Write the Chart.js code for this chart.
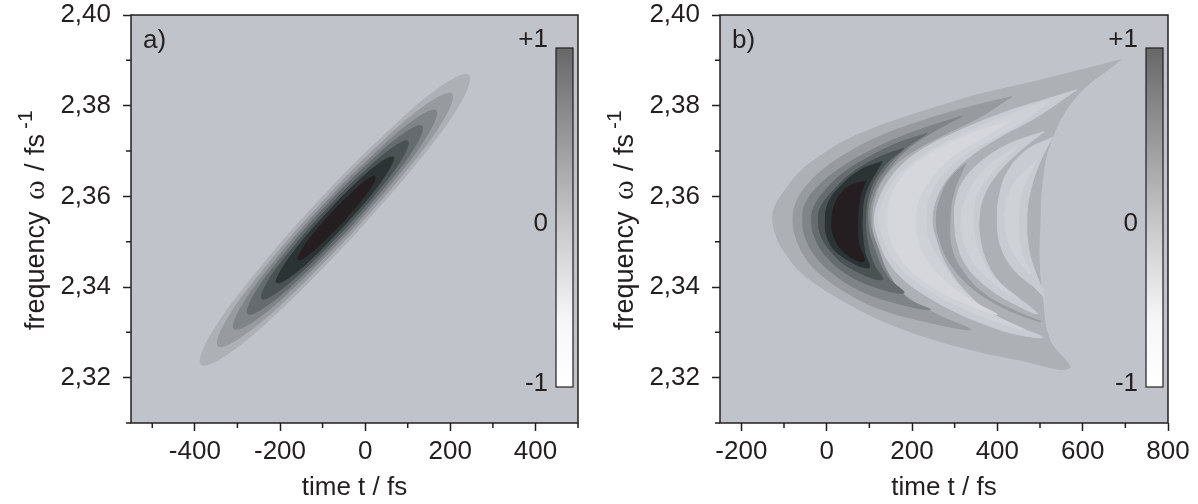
<!DOCTYPE html>
<html>
<head>
<meta charset="utf-8">
<script src="https://cdn.jsdelivr.net/npm/chart.js@4.4.0/dist/chart.umd.min.js"></script>
<style>
  body { margin: 0; background: #fff; }
  #wrap { position: relative; width: 1198px; height: 504px; }
  canvas { position: absolute; top: 0; }
  #chartA { left: 0; }
  #chartB { left: 589px; }
</style>
</head>
<body>
<div id="wrap">
  <canvas id="chartA" width="589" height="504"></canvas>
  <canvas id="chartB" width="609" height="504"></canvas>
</div>
<script>
// axes
const timeRangeA = [-550, 500];
const timeRangeB = [-250, 800];
const freqRange = [2.31, 2.40];
const timeTicksA = [-400, -200, 0, 200, 400];
const timeMinorA = [-500, -300, -100, 100, 300, 500];
const timeTicksB = [-200, 0, 200, 400, 600, 800];
const timeMinorB = [-100, 100, 300, 500, 700];
const freqTicks = [2.32, 2.34, 2.36, 2.38, 2.40];
const freqMinor = [2.31, 2.33, 2.35, 2.37, 2.39];
const barLabels = ['+1', '0', '-1'];

// panel a) contour outlines [t fs, omega fs^-1], outer to inner
const aLevel1 = [[-29,2.3511],[-191,2.3357],[-322,2.3253],[-385,2.3229],[-365,2.3290],[-265,2.3421],[-114,2.3585],[49,2.3739],[180,2.3843],[243,2.3867],[223,2.3806],[123,2.3676],[-29,2.3511]];
const aLevel2 = [[-34,2.3516],[-176,2.3381],[-290,2.3291],[-345,2.3270],[-327,2.3324],[-240,2.3437],[-108,2.3580],[34,2.3715],[148,2.3805],[203,2.3826],[185,2.3772],[98,2.3659],[-34,2.3516]];
const aLevel3 = [[-39,2.3520],[-162,2.3404],[-260,2.3326],[-308,2.3308],[-292,2.3354],[-217,2.3452],[-103,2.3576],[20,2.3692],[118,2.3770],[166,2.3789],[150,2.3742],[75,2.3644],[-39,2.3520]];
const aLevel4 = [[-43,2.3524],[-149,2.3424],[-234,2.3357],[-275,2.3341],[-262,2.3381],[-197,2.3465],[-99,2.3572],[7,2.3672],[92,2.3739],[133,2.3755],[120,2.3715],[55,2.3631],[-43,2.3524]];
const aLevel5 = [[-48,2.3528],[-137,2.3444],[-208,2.3388],[-242,2.3374],[-231,2.3408],[-177,2.3478],[-94,2.3568],[-5,2.3652],[66,2.3708],[100,2.3722],[89,2.3688],[35,2.3618],[-48,2.3528]];
const aLevel6 = [[-53,2.3532],[-123,2.3465],[-180,2.3420],[-208,2.3410],[-198,2.3436],[-155,2.3493],[-89,2.3564],[-19,2.3631],[38,2.3676],[66,2.3686],[56,2.3660],[13,2.3603],[-53,2.3532]];
const aLevel7 = [[-55,2.3541],[-102,2.3497],[-139,2.3467],[-157,2.3460],[-151,2.3478],[-123,2.3515],[-79,2.3563],[-32,2.3607],[5,2.3637],[23,2.3644],[17,2.3626],[-11,2.3589],[-55,2.3541]];

// panel b) outlines
const bEnvelope = [[689,2.3901],[486,2.3853],[353,2.3824],[275,2.3802],[188,2.3776],[110,2.3750],[40,2.3721],[-15,2.3689],[-62,2.3655],[-97,2.3614],[-121,2.3578],[-126,2.3548],[-118,2.3512],[-97,2.3475],[-62,2.3434],[-11,2.3398],[55,2.3361],[134,2.3324],[228,2.3291],[337,2.3262],[447,2.3240],[568,2.3221],[522,2.3285],[505,2.3380],[498,2.3460],[500,2.3548],[505,2.3630],[525,2.3720],[585,2.3820],[689,2.3901]];
const bNeg1 = [[586,2.3835],[510,2.3813],[434,2.3791],[361,2.3765],[290,2.3736],[228,2.3706],[181,2.3673],[146,2.3636],[122,2.3592],[112,2.3548],[122,2.3504],[142,2.3460],[181,2.3416],[236,2.3379],[306,2.3343],[384,2.3313],[447,2.3295],[506,2.3289],[447,2.3313],[384,2.3343],[329,2.3387],[282,2.3445],[259,2.3497],[247,2.3548],[259,2.3600],[290,2.3647],[341,2.3691],[408,2.3732],[494,2.3776],[586,2.3835]];
const bNeg2 = [[525,2.3813],[447,2.3787],[369,2.3758],[298,2.3728],[236,2.3697],[188,2.3664],[153,2.3628],[132,2.3589],[122,2.3548],[132,2.3508],[153,2.3466],[192,2.3425],[247,2.3388],[314,2.3355],[384,2.3328],[463,2.3306],[392,2.3339],[329,2.3383],[282,2.3437],[243,2.3496],[233,2.3548],[243,2.3603],[275,2.3650],[329,2.3695],[400,2.3733],[470,2.3772],[525,2.3813]];
const bNeg3 = [[431,2.3767],[337,2.3738],[259,2.3703],[198,2.3664],[163,2.3625],[146,2.3585],[142,2.3548],[148,2.3510],[167,2.3470],[206,2.3429],[261,2.3392],[331,2.3361],[400,2.3339],[337,2.3372],[275,2.3416],[229,2.3467],[212,2.3511],[208,2.3548],[216,2.3592],[247,2.3642],[298,2.3690],[369,2.3730],[431,2.3767]];
const bLobe2 = [[326,2.3673],[290,2.3640],[267,2.3598],[257,2.3548],[267,2.3497],[290,2.3451],[337,2.3401],[400,2.3361],[463,2.3335],[502,2.3324],[439,2.3348],[369,2.3385],[322,2.3431],[294,2.3482],[289,2.3548],[298,2.3608],[326,2.3673]];
const bNegLobe2 = [[510,2.3743],[431,2.3717],[369,2.3682],[323,2.3638],[303,2.3592],[300,2.3548],[306,2.3497],[329,2.3445],[376,2.3400],[439,2.3363],[494,2.3341],[447,2.3378],[400,2.3416],[370,2.3467],[359,2.3511],[357,2.3548],[365,2.3592],[392,2.3640],[447,2.3695],[510,2.3743]];
const bNegLobe2b = [[447,2.3710],[376,2.3666],[331,2.3607],[315,2.3548],[328,2.3482],[369,2.3427],[439,2.3378],[384,2.3431],[353,2.3490],[344,2.3548],[357,2.3614],[447,2.3710]];
const bNegLobe3 = [[529,2.3730],[470,2.3703],[427,2.3659],[406,2.3607],[400,2.3548],[408,2.3490],[439,2.3438],[486,2.3400],[511,2.3379],[490,2.3431],[474,2.3482],[469,2.3548],[478,2.3614],[502,2.3680],[529,2.3730]];
const bNegLobe3b = [[494,2.3682],[439,2.3629],[420,2.3578],[417,2.3548],[425,2.3504],[447,2.3460],[478,2.3429],[456,2.3482],[451,2.3548],[459,2.3614],[494,2.3682]];
const bPos2 = [[434,2.3820],[322,2.3794],[212,2.3763],[126,2.3733],[55,2.3699],[1,2.3666],[-42,2.3629],[-70,2.3589],[-79,2.3548],[-70,2.3504],[-46,2.3460],[-8,2.3423],[48,2.3387],[118,2.3354],[212,2.3328],[337,2.3306],[259,2.3339],[188,2.3379],[142,2.3431],[116,2.3490],[106,2.3548],[116,2.3607],[146,2.3655],[196,2.3695],[275,2.3736],[361,2.3776],[434,2.3820]];
const bPos3 = [[318,2.3777],[243,2.3755],[165,2.3728],[95,2.3697],[32,2.3662],[-19,2.3623],[-50,2.3584],[-56,2.3548],[-50,2.3510],[-27,2.3469],[16,2.3429],[79,2.3392],[157,2.3366],[243,2.3350],[188,2.3376],[146,2.3427],[120,2.3486],[101,2.3548],[112,2.3607],[142,2.3655],[188,2.3703],[251,2.3743],[318,2.3777]];
const bPos4 = [[236,2.3739],[165,2.3717],[102,2.3688],[44,2.3655],[-1,2.3616],[-29,2.3578],[-35,2.3548],[-29,2.3513],[-6,2.3473],[44,2.3431],[110,2.3401],[181,2.3387],[142,2.3423],[114,2.3478],[96,2.3548],[107,2.3611],[142,2.3666],[185,2.3706],[236,2.3739]];
const bPos5 = [[181,2.3706],[118,2.3684],[59,2.3651],[16,2.3613],[-14,2.3576],[-19,2.3548],[-14,2.3515],[12,2.3476],[55,2.3442],[130,2.3416],[109,2.3453],[96,2.3497],[91,2.3548],[102,2.3614],[134,2.3666],[181,2.3706]];
const bPos6 = [[130,2.3677],[79,2.3658],[33,2.3623],[4,2.3586],[-3,2.3548],[2,2.3508],[28,2.3473],[98,2.3442],[89,2.3478],[84,2.3519],[83,2.3548],[91,2.3607],[130,2.3677]];
const bPos7 = [[91,2.3633],[54,2.3623],[26,2.3596],[12,2.3548],[20,2.3504],[48,2.3471],[87,2.3457],[75,2.3497],[73,2.3548],[79,2.3600],[91,2.3633]];

// [level, outline], painted bottom to top
const contoursA = [[1, aLevel1], [2, aLevel2], [3, aLevel3], [4, aLevel4], [5, aLevel5], [6, aLevel6], [7, aLevel7]];
const contoursB = [
  [1, bEnvelope], [-1, bNeg1], [-2, bNeg2], [-3, bNeg3], [2, bLobe2],
  [-1, bNegLobe2], [-2, bNegLobe2b], [-1, bNegLobe3], [-2, bNegLobe3b],
  [2, bPos2], [3, bPos3], [4, bPos4], [5, bPos5], [6, bPos6], [7, bPos7]
];

const FONT = '"Liberation Sans", Arial, Helvetica, sans-serif';
const INK = '#231f20';
const BG = '#c0c3ca';
const shade = {
  '7': '#241e20', '6': '#2b3335', '5': '#4a5254', '4': '#656b6e',
  '3': '#7e8488', '2': '#979ba0', '1': '#adb1b6',
  '-1': '#c8cbd1', '-2': '#ced1d6', '-3': '#d5d7dc'
};

Chart.defaults.font.family = FONT;

// rotated axis title with a superscript, pieces placed along the text line
function drawYTitle(ctx, x, y) {
  ctx.save();
  ctx.translate(x, y);
  ctx.rotate(-Math.PI / 2);
  ctx.fillStyle = INK;
  ctx.textAlign = 'left';
  ctx.textBaseline = 'alphabetic';
  ctx.font = '27px ' + FONT;
  ctx.fillText('frequency', 0, 0);
  ctx.font = '30px "Liberation Serif", serif';
  ctx.fillText('\u03c9', 130, 0);
  ctx.font = '27px ' + FONT;
  ctx.fillText('/', 159, 0);
  ctx.fillText('fs', 175, 0);
  ctx.font = '21px ' + FONT;
  ctx.fillText('-1', 201, -12);
  ctx.restore();
}

const decor = {
  id: 'decor',
  beforeDraw(chart) {
    const {ctx, chartArea: a} = chart;
    ctx.save();
    ctx.fillStyle = BG;
    ctx.fillRect(a.left, a.top, a.right - a.left, a.bottom - a.top);
    ctx.restore();
  },
  afterDraw(chart, args, opts) {
    const {ctx, chartArea: a, scales} = chart;
    ctx.save();
    ctx.strokeStyle = INK;
    ctx.lineWidth = 1.5;
    ctx.beginPath();
    opts.minorX.forEach(v => {
      const x = scales.x.getPixelForValue(v);
      ctx.moveTo(x, a.bottom);
      ctx.lineTo(x, a.bottom + 5);
    });
    freqMinor.forEach(v => {
      const y = scales.y.getPixelForValue(v);
      ctx.moveTo(a.left, y);
      ctx.lineTo(a.left - 5, y);
    });
    ctx.stroke();
    ctx.strokeRect(a.left, a.top, a.right - a.left, a.bottom - a.top);

    // colour scale
    const bw = 17, bx = a.right - 5 - bw, by = a.top + 33, bh = 339;
    const g = ctx.createLinearGradient(0, by, 0, by + bh);
    g.addColorStop(0, '#676767');
    g.addColorStop(0.5, '#c4c4c4');
    g.addColorStop(0.8, '#f6f6f6');
    g.addColorStop(1, '#ffffff');
    ctx.fillStyle = g;
    ctx.fillRect(bx, by, bw, bh);
    ctx.lineWidth = 1.2;
    ctx.strokeRect(bx, by, bw, bh);

    ctx.fillStyle = INK;
    ctx.font = '26px ' + FONT;
    ctx.textAlign = 'right';
    ctx.textBaseline = 'middle';
    ctx.fillText(barLabels[0], bx - 8, by - 8);
    ctx.fillText(barLabels[1], bx - 8, by + bh / 2 + 6);
    ctx.fillText(barLabels[2], bx - 8, by + bh - 3);

    ctx.textAlign = 'left';
    ctx.textBaseline = 'alphabetic';
    ctx.fillText(opts.letter, a.left + 12, a.top + 33);
    ctx.restore();

    drawYTitle(ctx, 44, 330);
  }
};

function makeChart(id, contours, range, ticks, minor, letter, padRight) {
  const datasets = contours.map(([level, pts]) => ({
    data: pts.map(([t, w]) => ({x: t, y: w})),
    backgroundColor: shade[level],
    borderColor: shade[level],
    borderWidth: 1,
    fill: 'shape',
    tension: 0.4,
    pointRadius: 0
  })).reverse();

  return new Chart(document.getElementById(id), {
    type: 'line',
    data: {datasets},
    plugins: [decor],
    options: {
      responsive: false,
      animation: false,
      events: [],
      layout: {padding: {left: 0, right: padRight, top: 15, bottom: 0}},
      plugins: {
        legend: {display: false},
        tooltip: {enabled: false},
        decor: {letter, minorX: minor}
      },
      scales: {
        x: {
          type: 'linear', min: range[0], max: range[1],
          afterBuildTicks: s => { s.ticks = ticks.map(v => ({value: v})); },
          afterFit: s => { s.height = 81; s.paddingLeft = 0; s.paddingRight = 0; },
          grid: {drawOnChartArea: false, tickLength: 8, tickColor: INK, tickWidth: 1.5},
          border: {display: false},
          ticks: {color: INK, font: {size: 26}, padding: 5, maxRotation: 0, autoSkip: false,
                  callback: v => String(v)},
          title: {display: true, text: 'time t / fs', color: INK, font: {size: 26},
                  padding: {top: 0, bottom: 1}}
        },
        y: {
          type: 'linear', min: freqRange[0], max: freqRange[1],
          afterBuildTicks: s => { s.ticks = freqTicks.map(v => ({value: v})); },
          afterFit: s => { s.width = 131; s.paddingTop = 0; s.paddingBottom = 0; },
          grid: {drawOnChartArea: false, tickLength: 8, tickColor: INK, tickWidth: 1.5},
          border: {display: false},
          ticks: {color: INK, font: {size: 26}, padding: 12,
                  callback: v => v.toFixed(2).replace('.', ',')}
        }
      }
    }
  });
}

makeChart('chartA', contoursA, timeRangeA, timeTicksA, timeMinorA, 'a)', 11);
makeChart('chartB', contoursB, timeRangeB, timeTicksB, timeMinorB, 'b)', 30);
</script>
</body>
</html>
